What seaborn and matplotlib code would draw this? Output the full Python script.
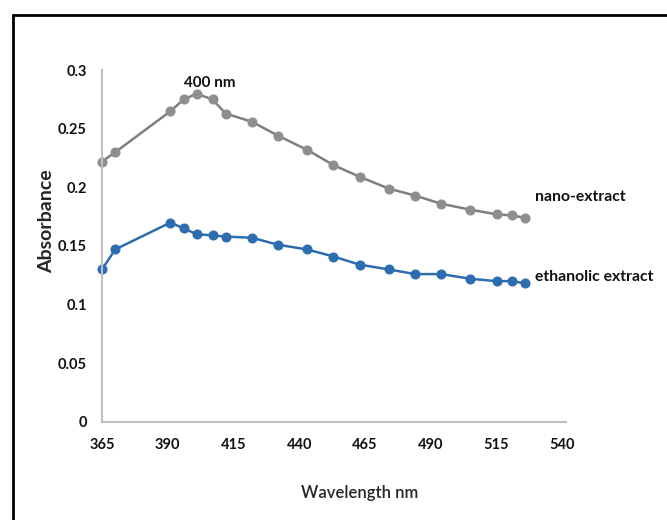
import matplotlib
matplotlib.use("Agg")
import matplotlib.pyplot as plt
import seaborn as sns
import pandas as pd
from matplotlib.lines import Line2D

# values
wavelength = [365, 370, 391, 396, 401, 407, 412, 422, 432, 443,
              453, 463, 474, 484, 494, 505, 515, 521, 526]
nano_extract = [0.222, 0.230, 0.265, 0.275, 0.280, 0.275, 0.263, 0.256, 0.244, 0.232,
                0.219, 0.209, 0.199, 0.193, 0.186, 0.181, 0.177, 0.176, 0.174]
ethanolic_extract = [0.130, 0.147, 0.170, 0.165, 0.160, 0.159, 0.158, 0.157, 0.151, 0.147,
                     0.141, 0.134, 0.130, 0.126, 0.126, 0.122, 0.120, 0.120, 0.118]
x_ticks = [365, 390, 415, 440, 465, 490, 515, 540]
y_ticks = [0, 0.05, 0.1, 0.15, 0.2, 0.25, 0.3]
y_tick_labels = ["0", "0.05", "0.1", "0.15", "0.2", "0.25", "0.3"]

df = pd.DataFrame({"wavelength": wavelength,
                   "nano": nano_extract,
                   "ethanolic": ethanolic_extract})

sns.set_style("white")
plt.rcParams["font.family"] = ["Lato", "DejaVu Sans"]

fig = plt.figure(figsize=(6.67, 5.2), dpi=100)
ax = fig.add_axes([0.153, 0.189, 0.69, 0.676])

sns.lineplot(data=df, x="wavelength", y="nano", ax=ax, color="#7f7f7f",
             marker="o", markersize=6.5, markerfacecolor="#8e8e8e",
             markeredgecolor="#8e8e8e", linewidth=1.8, clip_on=False)
sns.lineplot(data=df, x="wavelength", y="ethanolic", ax=ax, color="#2e6cb0",
             marker="o", markersize=6.5, markerfacecolor="#2e6cb0",
             markeredgecolor="#2e6cb0", linewidth=1.8, clip_on=False)

ax.set_xlim(365, 540)
ax.set_ylim(0, 0.3)
ax.set_xticks(x_ticks)
ax.set_xticklabels([str(t) for t in x_ticks])
ax.set_yticks(y_ticks)
ax.set_yticklabels(y_tick_labels)
ax.tick_params(axis="both", length=0, labelsize=10.5, colors="#111111")
ax.tick_params(axis="x", pad=12)
ax.tick_params(axis="y", pad=11)
for lab in ax.get_xticklabels() + ax.get_yticklabels():
    lab.set_fontweight("bold")

for side in ["top", "right"]:
    ax.spines[side].set_visible(False)
for side in ["left", "bottom"]:
    ax.spines[side].set_color("#bfbfbf")
    ax.spines[side].set_linewidth(1.5)
ax.spines["bottom"].set_bounds(365, 541.5)
ax.set_zorder(1)

ax.set_xlabel("Wavelength nm", fontsize=12, fontweight="semibold")
ax.xaxis.set_label_coords(0.559, -0.18)
ax.set_ylabel("Absorbance", fontsize=14, fontweight="bold")
ax.yaxis.set_label_coords(-0.102, 0.57)

ax.text(406, 0.2895, "400 nm", ha="center", va="center", fontsize=11,
        fontweight="bold", color="#111111")
ax.text(529.5, 0.1915, "nano-extract", ha="left", va="center", fontsize=11.3,
        fontweight="bold", color="#111111")
ax.text(529.5, 0.1235, "ethanolic extract", ha="left", va="center", fontsize=11.3,
        fontweight="bold", color="#111111")

# outer frame (only left and top edges visible in the picture)
fig.add_artist(Line2D([0.0195, 0.0195], [0.0, 0.971], transform=fig.transFigure,
                      color="black", linewidth=2))
fig.add_artist(Line2D([0.0195, 1.0], [0.971, 0.971], transform=fig.transFigure,
                      color="black", linewidth=2))

fig.savefig("out.png", dpi=100)
